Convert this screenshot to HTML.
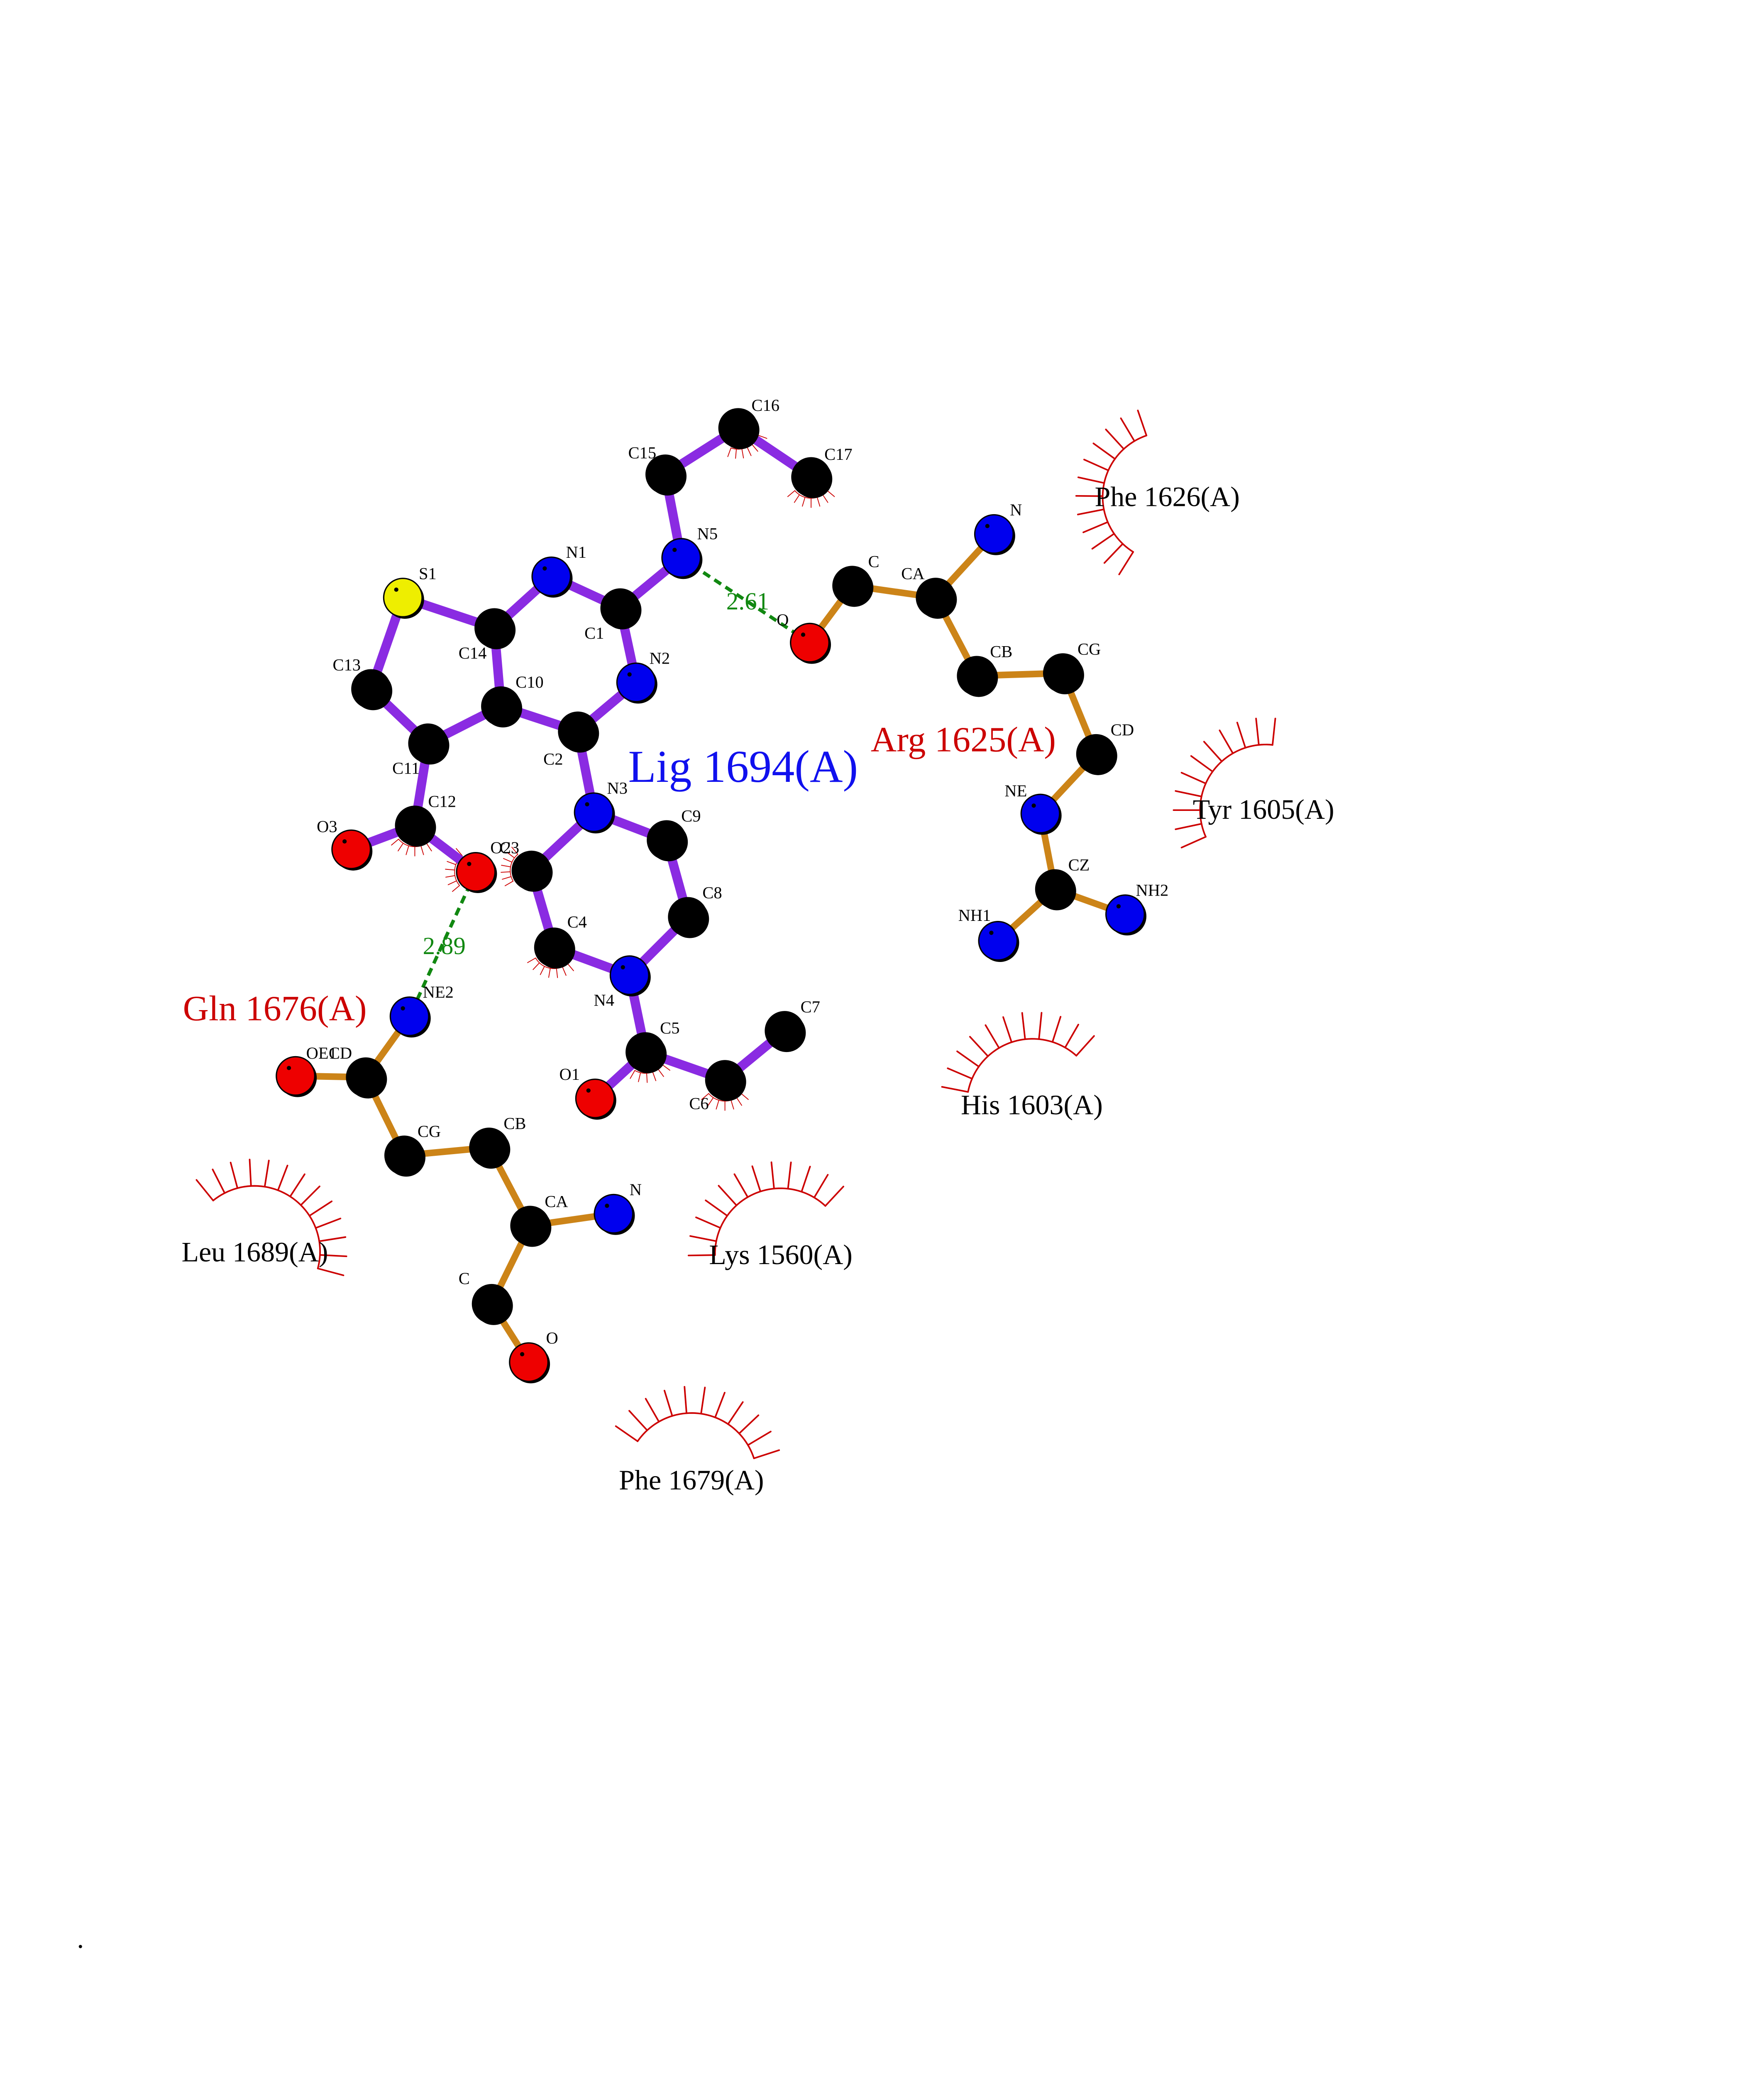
<!DOCTYPE html>
<html><head><meta charset="utf-8"><style>
html,body{margin:0;padding:0;background:#fff;overflow:hidden;}
svg{display:block;position:absolute;left:0;top:0;height:100vh;width:77.2727vh;}
text{font-family:"Liberation Serif",serif;}
</style></head><body>
<svg id="s" viewBox="0 0 1210 1566" preserveAspectRatio="none" xmlns="http://www.w3.org/2000/svg">
<rect width="1210" height="1566" fill="#fff"/>
<g id="arcs" stroke="#cc0000" stroke-width="1.2" fill="none" stroke-linecap="round"></g>
<g id="bonds" stroke-linecap="round"></g>
<g stroke="#118811" stroke-width="2.6" stroke-dasharray="6,4" fill="none">
<line x1="514" y1="421" x2="611" y2="485"/>
<line x1="359" y1="658" x2="309" y2="767"/>
</g>
<g id="atoms"></g>
<g font-size="12.7" fill="#000">
<text x="567" y="310">C16</text><text x="622" y="347">C17</text><text x="474" y="346">C15</text>
<text x="526" y="407">N5</text><text x="441" y="482">C1</text><text x="427" y="421">N1</text>
<text x="490" y="501">N2</text><text x="346" y="497">C14</text><text x="316" y="437">S1</text>
<text x="251" y="506">C13</text><text x="389" y="519">C10</text><text x="410" y="577">C2</text>
<text x="296" y="584">C11</text><text x="458" y="599">N3</text><text x="514" y="620">C9</text>
<text x="323" y="609">C12</text><text x="239" y="628">O3</text><text x="370" y="644">O2</text>
<text x="377" y="644">C3</text><text x="530" y="678">C8</text><text x="428" y="700">C4</text>
<text x="448" y="759">N4</text><text x="498" y="780">C5</text><text x="520" y="837">C6</text>
<text x="604" y="764">C7</text><text x="422" y="815">O1</text>
<text x="586" y="472">O</text><text x="655" y="428">C</text><text x="680" y="437">CA</text>
<text x="762" y="389">N</text><text x="747" y="496">CB</text><text x="813" y="494">CG</text>
<text x="838" y="555">CD</text><text x="758" y="601">NE</text><text x="806" y="657">CZ</text>
<text x="723" y="695">NH1</text><text x="857" y="676">NH2</text>
<text x="319" y="753">NE2</text><text x="231" y="799">OE1</text><text x="248" y="799">CD</text>
<text x="315" y="858">CG</text><text x="380" y="852">CB</text><text x="411" y="911">CA</text>
<text x="475" y="902">N</text><text x="346" y="969">C</text><text x="412" y="1014">O</text>
</g>
<g font-size="18.5" fill="#118811"><text x="548" y="460">2.61</text><text x="319" y="720">2.89</text></g>
<g font-size="27" fill="#cc0000">
<text x="657" y="567">Arg 1625(A)</text><text x="138" y="770">Gln 1676(A)</text>
</g>
<text x="474" y="590" font-size="34.5" fill="#1010ee">Lig 1694(A)</text>
<g font-size="21.3" fill="#000">
<text x="826" y="382">Phe 1626(A)</text><text x="900" y="618">Tyr 1605(A)</text>
<text x="725" y="841">His 1603(A)</text><text x="535" y="954">Lys 1560(A)</text>
<text x="137" y="952">Leu 1689(A)</text><text x="467" y="1124">Phe 1679(A)</text>
<text x="58" y="1470">.</text>
</g>
</svg>
<script>
var NS="http://www.w3.org/2000/svg";
function el(p,t,a){var e=document.createElementNS(NS,t);for(var k in a)e.setAttribute(k,a[k]);p.appendChild(e);return e;}
var A={C16:[557,323,'k'],C17:[612,360,'k'],C15:[502,358,'k'],N5:[514,421,'b'],C1:[468,459,'k'],N1:[416,435,'b'],N2:[480,515,'b'],C14:[373,474,'k'],S1:[304,451,'y'],C13:[280,520,'k'],C10:[378,533,'k'],C2:[436,552,'k'],C11:[323,561,'k'],N3:[448,613,'b'],C9:[503,634,'k'],C12:[313,623,'k'],O3:[265,641,'r'],O2:[359,658,'r'],C3:[401,657,'k'],C8:[519,692,'k'],C4:[418,715,'k'],N4:[475,736,'b'],C5:[487,794,'k'],C6:[547,815,'k'],C7:[592,778,'k'],O1:[449,829,'r'],
aO:[611,485,'r'],aC:[643,442,'k'],aCA:[706,451,'k'],aN:[750,403,'b'],aCB:[737,510,'k'],aCG:[802,508,'k'],aCD:[827,569,'k'],aNE:[785,614,'b'],aCZ:[796,671,'k'],aNH1:[753,710,'b'],aNH2:[849,690,'b'],
gNE2:[309,767,'b'],gCD:[276,813,'k'],gOE1:[223,812,'r'],gCG:[305,872,'k'],gCB:[369,866,'k'],gCA:[400,925,'k'],gN:[463,916,'b'],gC:[371,984,'k'],gO:[399,1028,'r']};
var L=[['C17','C16'],['C16','C15'],['C15','N5'],['N5','C1'],['C1','N1'],['C1','N2'],['N1','C14'],['C14','S1'],['S1','C13'],['C13','C11'],['C14','C10'],['C10','C11'],['C10','C2'],['C2','N2'],['C2','N3'],['N3','C9'],['N3','C3'],['C9','C8'],['C8','N4'],['N4','C4'],['C4','C3'],['C11','C12'],['C12','O3'],['C12','O2'],['N4','C5'],['C5','O1'],['C5','C6'],['C6','C7']];
var R=[['aO','aC'],['aC','aCA'],['aCA','aN'],['aCA','aCB'],['aCB','aCG'],['aCG','aCD'],['aCD','aNE'],['aNE','aCZ'],['aCZ','aNH1'],['aCZ','aNH2'],['gNE2','gCD'],['gCD','gOE1'],['gCD','gCG'],['gCG','gCB'],['gCB','gCA'],['gCA','gN'],['gCA','gC'],['gC','gO']];
var b=document.getElementById('bonds');
L.forEach(function(p){el(b,'line',{x1:A[p[0]][0],y1:A[p[0]][1],x2:A[p[1]][0],y2:A[p[1]][1],stroke:'#8a2be2','stroke-width':7});});
R.forEach(function(p){el(b,'line',{x1:A[p[0]][0],y1:A[p[0]][1],x2:A[p[1]][0],y2:A[p[1]][1],stroke:'#cc8418','stroke-width':5});});
var col={k:'#000',b:'#0000ee',r:'#ee0000',y:'#eeee00'};
var g=document.getElementById('atoms');
for(var k in A){var a=A[k];el(g,'circle',{cx:a[0]+1.5,cy:a[1]+1.5,r:14.5,fill:'#000'});el(g,'circle',{cx:a[0],cy:a[1],r:14.5,fill:col[a[2]],stroke:'#000','stroke-width':1});el(g,'circle',{cx:a[0]-5,cy:a[1]-6,r:1.6,fill:'#000'});}
var ar=document.getElementById('arcs');
function arc(cx,cy,r,a0,a1,n,sp,w){var d='';for(var i=0;i<=48;i++){var t=(a0+(a1-a0)*i/48)*Math.PI/180;d+=(i?'L':'M')+(cx+r*Math.cos(t)).toFixed(2)+' '+(cy+r*Math.sin(t)).toFixed(2);}
el(ar,'path',{d:d,'stroke-width':w});
for(var j=0;j<n;j++){var t=(a0+(a1-a0)*j/(n-1))*Math.PI/180;el(ar,'line',{x1:cx+r*Math.cos(t),y1:cy+r*Math.sin(t),x2:cx+(r+sp)*Math.cos(t),y2:cy+(r+sp)*Math.sin(t),'stroke-width':w});}}
arc(779,833.5,49.5,191,312,11,20,1.2);
arc(589,946.3,49.5,179,313,12,20,1.2);
arc(192,944.5,49.5,231,375,13,20,1.2);
arc(521.8,1115.9,49.5,214.7,342,11,20,1.2);
arc(881,375,49,251,122,12,20,1.2);
arc(955,611.4,49.5,276,156,11,20,1.2);
[['C16',20,110],['C17',40,140],['C12',40,140],['O2',140,230],['C3',150,230],['C4',50,150],['C5',20,120],['C6',40,140]].forEach(function(q){var a=A[q[0]];arc(a[0],a[1],16,q[1],q[2],7,7,0.6);});
</script>
</body></html>
